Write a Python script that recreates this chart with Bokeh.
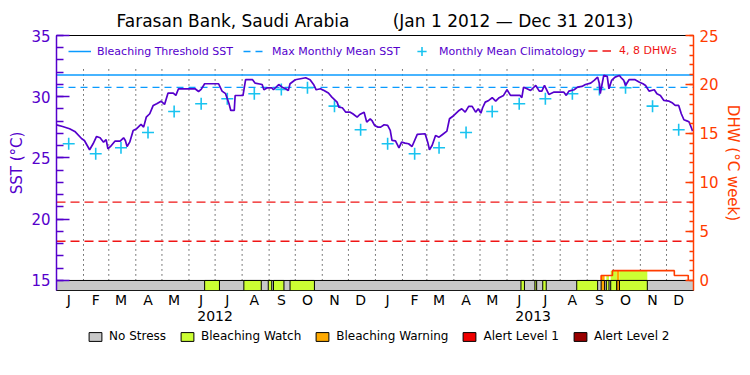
import numpy as np
import pandas as pd
from bokeh.plotting import figure
from bokeh.layouts import column
from bokeh.models import Range1d, LinearAxis, FixedTicker, Legend, LegendItem
from bokeh.embed import file_html
from bokeh.resources import INLINE

# ---------------- data ----------------
period_start = "2012-01-01"
period_end = "2013-12-31"

sst_dates = [
    "2012-01-01", "2012-01-08", "2012-01-16", "2012-01-22", "2012-01-30", "2012-02-02", "2012-02-08",
    "2012-02-12", "2012-02-16", "2012-02-20", "2012-02-24", "2012-02-27", "2012-02-29", "2012-03-03",
    "2012-03-08", "2012-03-14", "2012-03-18", "2012-03-20", "2012-03-22", "2012-03-25", "2012-03-29",
    "2012-04-02", "2012-04-07", "2012-04-10", "2012-04-13", "2012-04-17", "2012-04-21", "2012-04-25",
    "2012-04-30", "2012-05-04", "2012-05-08", "2012-05-14", "2012-05-17", "2012-05-20", "2012-06-02",
    "2012-06-08", "2012-06-12", "2012-06-15", "2012-06-19", "2012-07-05", "2012-07-09", "2012-07-13",
    "2012-07-17", "2012-07-19", "2012-07-23", "2012-07-24", "2012-08-02", "2012-08-05", "2012-08-13",
    "2012-08-16", "2012-08-24", "2012-08-26", "2012-08-30", "2012-09-04", "2012-09-06", "2012-09-12",
    "2012-09-16", "2012-09-20", "2012-09-23", "2012-09-25", "2012-10-01", "2012-10-07", "2012-10-13",
    "2012-10-18", "2012-10-22", "2012-10-25", "2012-10-30", "2012-11-03", "2012-11-08", "2012-11-12",
    "2012-11-18", "2012-11-20", "2012-11-24", "2012-11-28", "2012-12-03", "2012-12-06", "2012-12-11",
    "2012-12-14", "2012-12-19", "2012-12-22", "2012-12-26", "2012-12-28", "2012-12-31",
    "2013-01-04", "2013-01-07", "2013-01-11", "2013-01-15", "2013-01-18", "2013-01-20", "2013-01-24",
    "2013-01-28", "2013-01-31", "2013-02-04", "2013-02-08", "2013-02-12", "2013-02-18", "2013-02-27",
    "2013-03-02", "2013-03-04", "2013-03-07", "2013-03-11", "2013-03-15", "2013-03-19", "2013-03-24",
    "2013-03-27", "2013-04-01", "2013-04-07", "2013-04-10", "2013-04-14", "2013-04-18", "2013-04-22",
    "2013-04-26", "2013-04-29", "2013-05-02", "2013-05-04", "2013-05-07", "2013-05-11", "2013-05-15",
    "2013-05-19", "2013-05-23", "2013-05-28", "2013-06-01", "2013-06-05", "2013-06-16", "2013-06-18",
    "2013-06-20", "2013-06-24", "2013-06-28", "2013-07-04", "2013-07-08", "2013-07-11", "2013-07-14",
    "2013-07-19", "2013-07-25", "2013-08-05", "2013-08-08", "2013-08-11", "2013-08-17", "2013-08-21",
    "2013-08-26", "2013-08-30", "2013-09-05", "2013-09-09", "2013-09-13", "2013-09-15", "2013-09-16",
    "2013-09-18", "2013-09-20", "2013-09-24", "2013-09-26", "2013-09-29", "2013-10-03", "2013-10-08",
    "2013-10-10", "2013-10-13", "2013-10-15", "2013-10-19", "2013-10-26", "2013-10-31", "2013-11-04",
    "2013-11-07", "2013-11-11", "2013-11-17", "2013-11-20", "2013-11-24", "2013-11-28", "2013-12-04",
    "2013-12-08", "2013-12-11", "2013-12-15", "2013-12-18", "2013-12-21", "2013-12-25", "2013-12-27",
    "2013-12-30", "2013-12-31",
]
sst_values = [
    27.70, 27.57, 27.39, 27.17, 26.57, 26.43, 25.67, 26.16, 26.76, 26.65, 26.29, 26.49, 25.75, 25.94,
    26.37, 26.37, 26.65, 26.43, 25.94, 26.29, 27.25, 27.39, 27.74, 27.52, 28.33, 28.61, 29.29, 29.43,
    29.64, 29.37, 30.30, 30.30, 30.11, 30.65, 30.65, 30.65, 30.43, 30.60, 31.06, 31.06, 30.46, 30.25,
    29.43, 28.88, 28.88, 30.10, 30.10, 31.39, 31.39, 31.11, 31.00, 30.57, 30.73, 30.73, 30.57, 31.00,
    30.78, 30.65, 30.51, 31.06, 31.39, 31.47, 31.55, 31.39, 31.00, 30.57, 30.65, 30.51, 30.30, 29.97,
    29.56, 29.15, 29.10, 28.74, 28.74, 28.61, 28.33, 28.55, 28.74, 27.93, 28.20, 28.06, 27.66,
    27.52, 27.52, 27.71, 27.66, 27.25, 26.43, 26.40, 25.83, 26.29, 26.21, 26.16, 25.94, 26.92, 26.98,
    26.29, 25.67, 26.02, 26.84, 26.70, 26.92, 27.19, 28.20, 28.47, 28.88, 29.02, 28.74, 29.21, 29.21,
    28.74, 29.02, 28.66, 29.10, 29.56, 29.70, 29.92, 29.64, 29.92, 30.11, 30.57, 30.11, 30.11, 29.92,
    30.78, 30.65, 30.51, 30.92, 30.46, 30.46, 30.92, 30.19, 30.38, 30.38, 30.11, 30.46, 30.57, 30.78,
    30.84, 31.00, 31.11, 31.33, 31.60, 31.06, 30.25, 31.00, 31.74, 31.66, 30.65, 31.33, 31.60, 31.74,
    31.55, 31.33, 30.92, 31.39, 31.39, 31.19, 31.06, 30.92, 30.46, 30.57, 30.25, 30.11, 29.70, 29.64,
    29.48, 29.29, 29.29, 28.61, 28.12, 28.01, 27.93, 27.39, 27.19,
]

clim_dates = [f"{y}-{m:02d}-15" for y in (2012, 2013) for m in range(1, 13)]
clim_monthly = [26.16, 25.34, 25.83, 27.08, 28.80, 29.43, 29.84, 30.25, 30.60, 30.74, 29.23, 27.30]
clim_values = clim_monthly * 2

mmm_sst = 30.77
threshold_sst = 31.77
dhw_levels = [4, 8]

dhw_dates = ["2013-09-17", "2013-09-30", "2013-12-10", "2013-12-26"]
dhw_values = [0.5, 1.0, 0.5, 0.0]

stress_start = ["2012-06-19", "2012-08-03", "2012-08-31", "2012-09-06", "2012-09-25",
                "2013-06-17", "2013-07-03", "2013-07-12", "2013-08-20", "2013-09-17",
                "2013-09-23", "2013-09-28", "2013-10-05", "2013-10-08"]
stress_end = ["2012-07-06", "2012-08-23", "2012-09-04", "2012-09-18", "2012-10-23",
              "2013-06-21", "2013-07-05", "2013-07-16", "2013-09-13", "2013-09-21",
              "2013-09-26", "2013-10-05", "2013-10-08", "2013-11-09"]
stress_level = ["Bleaching Watch"] * 9 + ["Bleaching Warning", "Bleaching Watch", "Bleaching Watch",
                                          "Bleaching Warning", "Bleaching Watch"]

stress_names = ["No Stress", "Bleaching Watch", "Bleaching Warning", "Alert Level 1", "Alert Level 2"]
stress_colors = ["#c8c8c8", "#ccff33", "#ffaa00", "#f00000", "#990000"]

month_letters = ["J", "F", "M", "A", "M", "J", "J", "A", "S", "O", "N", "D"]
years = ["2012", "2013"]

# ---------------- styles ----------------
PURPLE = "#5500cc"
ORANGE = "#ff3c00"
BLUE = "#0a9bff"
CYAN = "#19c3f0"
RED = "#f01414"
FONT = "DejaVu Sans"

def ms(t):
    return pd.Timestamp(t).value / 1e6

x0 = pd.Timestamp(period_start)
x1 = pd.Timestamp(period_end) + pd.Timedelta(days=1)
sst_lo, sst_hi = 14.18, 35.0          # bar occupies the strip below 15 degC
dhw_per_deg = 1.25                    # DHW 0 at 15 degC, DHW 25 at 35 degC

p = figure(width=750, height=326, output_backend="svg", toolbar_location=None,
           x_axis_location=None, y_axis_location=None,
           x_range=Range1d(ms(x0), ms(x1)), y_range=Range1d(sst_lo, sst_hi),
           min_border_left=56, min_border_right=57, min_border_top=35, min_border_bottom=36)
p.extra_y_ranges = {"dhw": Range1d((sst_lo - 15) * dhw_per_deg, (sst_hi - 15) * dhw_per_deg)}
p.outline_line_color = "black"
p.outline_line_width = 1
p.background_fill_color = "white"
p.border_fill_color = "white"
p.xgrid.visible = False
p.ygrid.visible = False

p.title.text = "Farasan Bank, Saudi Arabia" + "\u00a0" * 8 + "(Jan 1 2012 \u2014 Dec 31 2013)"
p.title.align = "center"
p.title.text_font = FONT
p.title.text_font_size = "17px"
p.title.text_font_style = "normal"
p.title.text_color = "black"
p.title.standoff = 9

# month separators (dotted)
month_starts = pd.date_range("2012-02-01", "2013-12-01", freq="MS")
p.segment(x0=month_starts, y0=[15] * len(month_starts), x1=month_starts, y1=[32.5] * len(month_starts),
          line_color="black", line_width=1, line_dash="1 4")

# DHW 4/8 lines
xs_full = [x0, x1]
r_dhwl = p.multi_line(xs=[xs_full for _ in dhw_levels], ys=[[v, v] for v in dhw_levels],
                      line_color=RED, line_width=1.3, line_dash="9 5", y_range_name="dhw")
# MMM and threshold
r_mmm = p.line(xs_full, [mmm_sst, mmm_sst], line_color=BLUE, line_width=1.3, line_dash="7 5")
r_thr = p.line(xs_full, [threshold_sst, threshold_sst], line_color=BLUE, line_width=1.5)

# climatology
r_clim = p.scatter(pd.to_datetime(clim_dates), clim_values, marker="cross", size=12,
                   line_color=CYAN, line_width=1.6)

# SST
p.line(pd.to_datetime(sst_dates), sst_values, line_color=PURPLE, line_width=1.7)

# stress fill under DHW
dhw_t = pd.to_datetime(dhw_dates)
def dhw_at(t):
    i = np.searchsorted(dhw_t.values, np.datetime64(t), side="right") - 1
    return 0.0 if i < 0 else dhw_values[i]

s_start = pd.to_datetime(stress_start)
s_end = pd.to_datetime(stress_end)
for a, b, lev in zip(s_start, s_end, stress_level):
    top = dhw_at(a + (b - a) / 2)
    if top > 0:
        p.quad(left=[a], right=[b], bottom=[0], top=[top],
               fill_color=stress_colors[stress_names.index(lev)], line_color=None, y_range_name="dhw")

# DHW line
step_x = [dhw_t[0]] + list(dhw_t)
step_y = [0.0] + dhw_values
p.step(step_x, step_y, mode="after", line_color=ORANGE, line_width=1.6, y_range_name="dhw")

# stress bar
p.quad(left=[x0], right=[x1], bottom=[sst_lo], top=[15],
       fill_color=stress_colors[0], line_color="black", line_width=1)
for name, col in zip(stress_names[1:], stress_colors[1:]):
    sel = [i for i, l in enumerate(stress_level) if l == name]
    if sel:
        p.quad(left=[s_start[i] for i in sel], right=[s_end[i] for i in sel],
               bottom=[sst_lo] * len(sel), top=[15] * len(sel),
               fill_color=col, line_color="black", line_width=1)

# ---------------- axes ----------------
left = LinearAxis(ticker=FixedTicker(ticks=[15, 20, 25, 30, 35], minor_ticks=list(range(15, 36))),
                  axis_label="SST (\u00b0C)")
right = LinearAxis(y_range_name="dhw",
                   ticker=FixedTicker(ticks=[0, 5, 10, 15, 20, 25], minor_ticks=list(range(0, 26))),
                   axis_label="DHW (\u00b0C week)")
for ax, col, mj, mn in ((left, PURPLE, 13, 7), (right, ORANGE, 8, 4)):
    ax.axis_line_color = col
    ax.axis_line_width = 1.5
    ax.major_tick_line_color = col
    ax.minor_tick_line_color = col
    ax.major_tick_line_width = 1.5
    ax.minor_tick_line_width = 1.5
    ax.major_tick_in = mj
    ax.major_tick_out = 0
    ax.minor_tick_in = mn
    ax.minor_tick_out = 0
    ax.major_label_text_color = col
    ax.major_label_text_font = FONT
    ax.major_label_text_font_size = "15px"
    ax.major_label_standoff = 6
    ax.axis_label_text_color = col
    ax.axis_label_text_font = FONT
    ax.axis_label_text_font_size = "15px"
    ax.axis_label_text_font_style = "normal"
    ax.axis_label_standoff = 2
p.add_layout(left, "left")
p.add_layout(right, "right")

mid_ticks = [ms(d) for d in clim_dates]
months_ax = LinearAxis(ticker=FixedTicker(ticks=mid_ticks),
                       major_label_overrides={t: month_letters[i % 12] for i, t in enumerate(mid_ticks)})
year_ticks = [ms(f"{y}-07-01") for y in years]
years_ax = LinearAxis(ticker=FixedTicker(ticks=year_ticks),
                      major_label_overrides={t: y for t, y in zip(year_ticks, years)})
for ax, so in ((months_ax, 1), (years_ax, 0)):
    ax.axis_line_color = None
    ax.major_tick_line_color = None
    ax.minor_tick_line_color = None
    ax.major_tick_in = 0
    ax.major_tick_out = 0
    ax.major_label_standoff = so
    ax.major_label_text_font = FONT
    ax.major_label_text_font_size = "14px"
    ax.major_label_text_color = "black"
p.add_layout(months_ax, "below")
p.add_layout(years_ax, "below")

# ---------------- legends ----------------
def style_legend(lg, size):
    lg.border_line_color = None
    lg.background_fill_alpha = 0
    lg.label_text_font = FONT
    lg.label_text_font_size = size
    lg.padding = 0
    lg.margin = 0
    lg.inactive_fill_alpha = 0

top1 = Legend(items=[LegendItem(label="Bleaching Threshold SST", renderers=[r_thr]),
                     LegendItem(label="Max Monthly Mean SST", renderers=[r_mmm]),
                     LegendItem(label="Monthly Mean Climatology", renderers=[r_clim])],
              orientation="horizontal", location=(12, 226))
style_legend(top1, "11px")
top1.label_text_color = PURPLE
top1.glyph_width = 23
top1.glyph_height = 26
top1.label_height = 26
top1.label_standoff = 6
top1.spacing = 10
p.add_layout(top1)

top2 = Legend(items=[LegendItem(label="4, 8 DHWs", renderers=[r_dhwl])],
              orientation="horizontal", location=(532, 233))
style_legend(top2, "11px")
top2.label_text_color = RED
top2.glyph_width = 23
top2.glyph_height = 13
top2.label_height = 13
top2.label_standoff = 8
p.add_layout(top2)

# stress-level key, in a strip under the chart (frame aligned with the chart's frame)
lf = figure(width=750, height=46, output_backend="svg", toolbar_location=None,
            x_axis_location=None, y_axis_location=None, min_border=0,
            x_range=Range1d(0, 1), y_range=Range1d(0, 1))
lf.outline_line_color = None
lf.xgrid.visible = False
lf.ygrid.visible = False
key_renderers = [lf.quad(left=[0], right=[1], bottom=[0], top=[1], fill_color=c,
                         line_color="black", line_width=1, visible=False) for c in stress_colors]
bottom_leg = Legend(items=[LegendItem(label=n, renderers=[r]) for n, r in zip(stress_names, key_renderers)],
                    orientation="horizontal", location=(31, 29))
style_legend(bottom_leg, "12px")
bottom_leg.label_text_color = "black"
bottom_leg.glyph_width = 16
bottom_leg.glyph_height = 11
bottom_leg.label_height = 11
bottom_leg.label_standoff = 6
bottom_leg.spacing = 13
lf.add_layout(bottom_leg)

layout = column(p, lf, spacing=0)
open("out.html", "w").write(file_html(layout, INLINE))
